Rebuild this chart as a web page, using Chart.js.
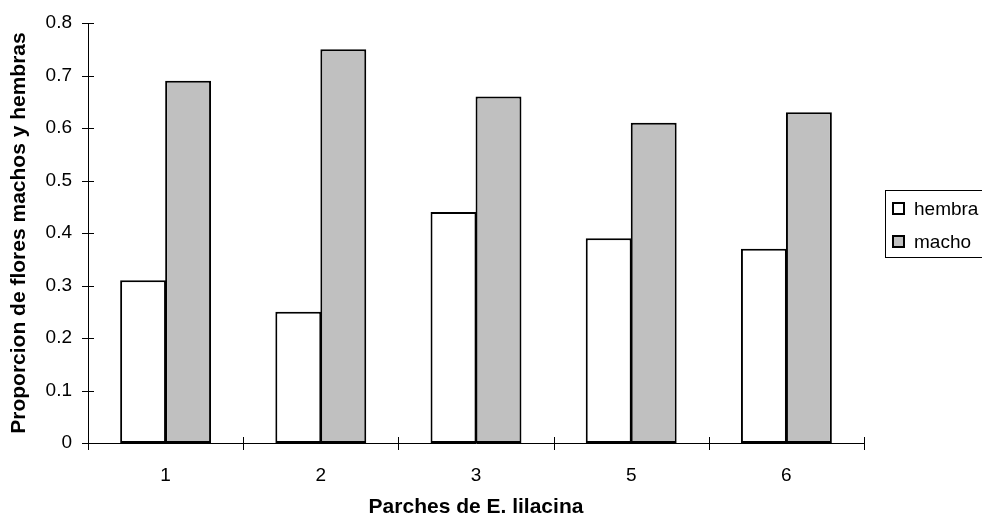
<!DOCTYPE html>
<html>
<head>
<meta charset="utf-8">
<script src="https://cdn.jsdelivr.net/npm/chart.js@4.4.0/dist/chart.umd.min.js"></script>
<style>
  html, body { margin: 0; padding: 0; background: #fff; }
  #wrap { width: 982px; height: 520px; position: relative; }
</style>
</head>
<body>
<div id="wrap"><canvas id="grafico" width="982" height="520"></canvas></div>
<script>
const parches = ["1", "2", "3", "5", "6"];
const hembra = [0.31, 0.25, 0.44, 0.39, 0.37];
const macho = [0.69, 0.75, 0.66, 0.61, 0.63];
const nombresSeries = ["hembra", "macho"];

const fuente = "'Liberation Sans', Arial, sans-serif";

// marcas de eje que cruzan la linea (estilo Excel) + leyenda con marco
const extras = {
  id: "extras",
  afterDraw(chart) {
    const c = chart.ctx;
    const x = chart.scales.x, y = chart.scales.y;
    const a = chart.chartArea;
    c.save();
    c.strokeStyle = "#000";
    c.lineWidth = 1;
    c.beginPath();
    y.ticks.forEach((t, i) => {
      const py = Math.round(y.getPixelForTick(i)) + 0.5;
      c.moveTo(a.left - 6, py); c.lineTo(a.left + 6, py);
    });
    for (let i = 0; i <= parches.length; i++) {
      const px = Math.round(x.getPixelForValue(i - 0.5)) + 0.5;
      c.moveTo(px, a.bottom - 6); c.lineTo(px, a.bottom + 7);
    }
    c.stroke();

    // leyenda
    const lx = 885, ly = 190, lw = 110, lh = 67;
    c.strokeStyle = "#000";
    c.lineWidth = 1;
    c.strokeRect(lx + 0.5, ly + 0.5, lw, lh);
    c.font = "19px " + fuente;
    c.textBaseline = "middle";
    chart.data.datasets.forEach((ds, i) => {
      const cy = 209 + i * 33;
      c.fillStyle = ds.backgroundColor;
      c.fillRect(lx + 8, cy - 6, 11, 11);
      c.lineWidth = 2;
      c.strokeRect(lx + 8, cy - 6, 11, 11);
      c.fillStyle = "#000";
      c.fillText(ds.label, lx + 29, cy + 1);
    });
    c.restore();
  }
};

const ctx = document.getElementById("grafico").getContext("2d");
new Chart(ctx, {
  type: "bar",
  data: {
    labels: parches,
    datasets: [
      {
        label: nombresSeries[0],
        data: hembra,
        backgroundColor: "#FFFFFF",
        borderColor: "#000000",
        borderWidth: 2,
        borderSkipped: false
      },
      {
        label: nombresSeries[1],
        data: macho,
        backgroundColor: "#C0C0C0",
        borderColor: "#000000",
        borderWidth: 2,
        borderSkipped: false
      }
    ]
  },
  options: {
    responsive: false,
    animation: false,
    layout: { padding: { left: 0, right: 118, top: 23, bottom: 0 } },
    plugins: {
      legend: { display: false },
      tooltip: { enabled: false }
    },
    datasets: {
      bar: { categoryPercentage: 0.58, barPercentage: 1.02 }
    },
    scales: {
      x: {
        grid: { display: false, offset: true },
        border: { display: true, color: "#000", width: 1 },
        ticks: { color: "#000", font: { family: fuente, size: 19 }, padding: 13 },
        title: {
          display: true,
          text: "Parches de E. lilacina",
          color: "#000",
          font: { family: fuente, size: 21, weight: "bold" },
          padding: { top: 10, bottom: 0 }
        },
        afterFit(s) { s.height = 77; }
      },
      y: {
        min: 0,
        max: 0.8,
        grid: { display: false },
        border: { display: true, color: "#000", width: 1 },
        ticks: {
          stepSize: 0.1,
          color: "#000",
          font: { family: fuente, size: 19 },
          padding: 8,
          callback: v => (Math.round(v * 10) / 10).toString()
        },
        title: {
          display: true,
          text: "Proporcion de flores machos y hembras",
          color: "#000",
          font: { family: fuente, size: 21, weight: "bold" },
          padding: { top: 7, bottom: 10 }
        },
        afterFit(s) { s.width = 88; }
      }
    }
  },
  plugins: [extras]
});
</script>
</body>
</html>
